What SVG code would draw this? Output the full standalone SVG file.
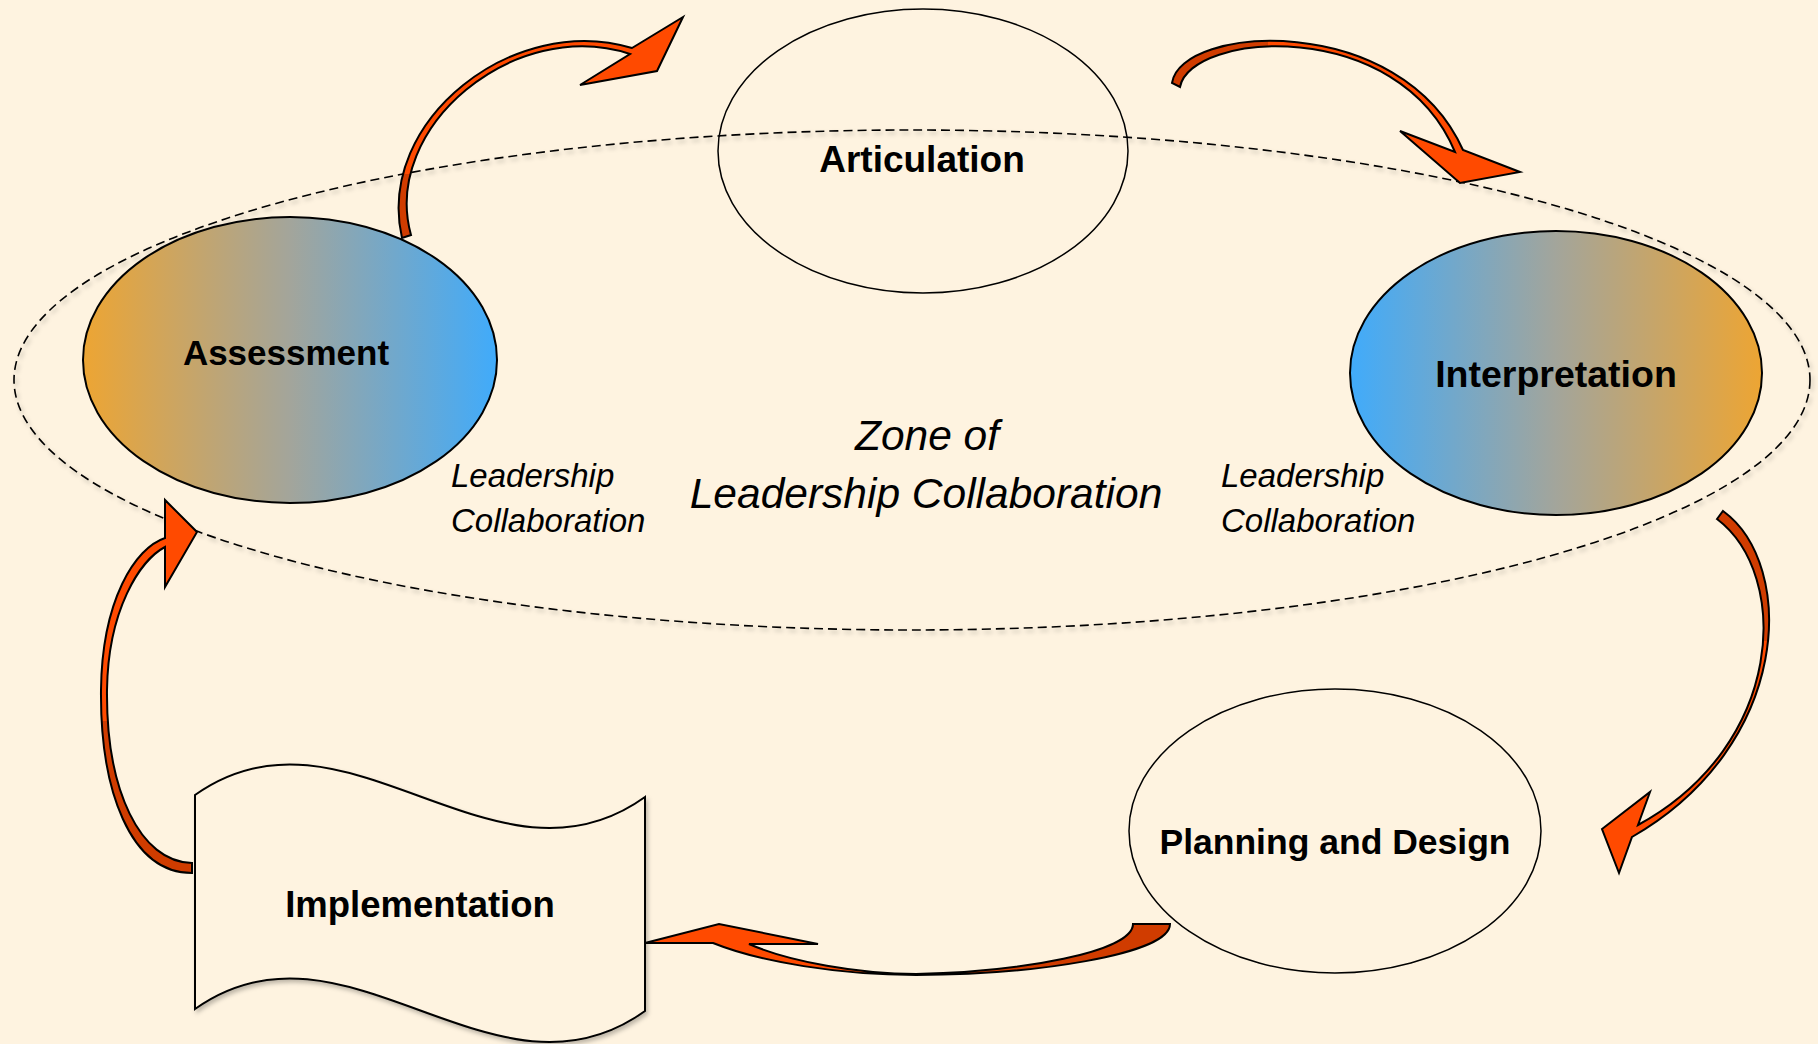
<svg xmlns="http://www.w3.org/2000/svg" width="1818" height="1044" viewBox="0 0 1818 1044">
  <defs>
    <linearGradient id="gradOB" x1="0" y1="0" x2="1" y2="0">
      <stop offset="0" stop-color="#EDA533"/>
      <stop offset="0.5" stop-color="#A3A59B"/>
      <stop offset="1" stop-color="#40ABFB"/>
    </linearGradient>
    <linearGradient id="gradBO" x1="0" y1="0" x2="1" y2="0">
      <stop offset="0" stop-color="#40ABFB"/>
      <stop offset="0.5" stop-color="#A3A59B"/>
      <stop offset="1" stop-color="#EDA533"/>
    </linearGradient>
    <linearGradient id="a1" gradientUnits="userSpaceOnUse" x1="400" y1="240" x2="400" y2="20">
      <stop offset="0" stop-color="#D03C00"/><stop offset="0.3" stop-color="#D03C00"/>
      <stop offset="0.3" stop-color="#FF4A00"/><stop offset="1" stop-color="#FF4A00"/>
    </linearGradient>
    <linearGradient id="a2" gradientUnits="userSpaceOnUse" x1="1170" y1="0" x2="1520" y2="0">
      <stop offset="0" stop-color="#D03C00"/><stop offset="0.28" stop-color="#D03C00"/>
      <stop offset="0.28" stop-color="#FF4A00"/><stop offset="1" stop-color="#FF4A00"/>
    </linearGradient>
    <linearGradient id="a3" gradientUnits="userSpaceOnUse" x1="0" y1="510" x2="0" y2="875">
      <stop offset="0" stop-color="#D03C00"/><stop offset="0.36" stop-color="#D03C00"/>
      <stop offset="0.36" stop-color="#FF4A00"/><stop offset="1" stop-color="#FF4A00"/>
    </linearGradient>
    <linearGradient id="a4" gradientUnits="userSpaceOnUse" x1="1170" y1="0" x2="645" y2="0">
      <stop offset="0" stop-color="#D03C00"/><stop offset="0.48" stop-color="#D03C00"/>
      <stop offset="0.48" stop-color="#FF4A00"/><stop offset="1" stop-color="#FF4A00"/>
    </linearGradient>
    <linearGradient id="a5" gradientUnits="userSpaceOnUse" x1="0" y1="875" x2="0" y2="500">
      <stop offset="0" stop-color="#D03C00"/><stop offset="0.41" stop-color="#D03C00"/>
      <stop offset="0.41" stop-color="#FF4A00"/><stop offset="1" stop-color="#FF4A00"/>
    </linearGradient>
    <filter id="shadow" x="-5%" y="-5%" width="110%" height="115%">
      <feDropShadow dx="2" dy="3" stdDeviation="2" flood-color="#000" flood-opacity="0.25"/>
    </filter>
  </defs>
  <style>
    .bold { font-family: "Liberation Sans", Arial, sans-serif; font-weight: bold; fill: #000; text-anchor: middle; }
    .ital { font-family: "Liberation Sans", Arial, sans-serif; font-style: italic; fill: #000; }
    .plain { fill: #FEF3E0; stroke: #000; stroke-width: 1.5; }
    .arrow { stroke: #000; stroke-width: 2; stroke-linejoin: miter; }
  </style>
  <rect x="0" y="0" width="1818" height="1044" fill="#FEF3E0"/>

  <g id="articulation">
    <ellipse class="plain" cx="923" cy="151" rx="205" ry="142"/>
    <text class="bold" x="922" y="172" font-size="37">Articulation</text>
  </g>

  <g id="zone">
    <ellipse cx="912" cy="380" rx="898" ry="250" fill="none" stroke="#000" stroke-width="1.6" stroke-dasharray="9 5" filter="url(#shadow)"/>
    <text class="ital" x="927" y="450" font-size="42.5" text-anchor="middle">Zone of</text>
    <text class="ital" x="926" y="508" font-size="42.5" text-anchor="middle">Leadership Collaboration</text>
  </g>

  <g id="label-left">
    <text class="ital" x="451" y="487" font-size="33">Leadership</text>
    <text class="ital" x="451" y="532" font-size="33">Collaboration</text>
  </g>
  <g id="label-right">
    <text class="ital" x="1221" y="487" font-size="33">Leadership</text>
    <text class="ital" x="1221" y="532" font-size="33">Collaboration</text>
  </g>

  <g id="assessment">
    <ellipse cx="290" cy="360" rx="207" ry="143" fill="url(#gradOB)" stroke="#000" stroke-width="2"/>
    <text class="bold" x="286" y="365" font-size="35">Assessment</text>
  </g>

  <g id="interpretation">
    <ellipse cx="1556" cy="373" rx="206" ry="142" fill="url(#gradBO)" stroke="#000" stroke-width="2"/>
    <text class="bold" x="1556" y="387" font-size="37.5">Interpretation</text>
  </g>

  <g id="planning">
    <ellipse class="plain" cx="1335" cy="831" rx="206" ry="142"/>
    <text class="bold" x="1335" y="854" font-size="35.5">Planning and Design</text>
  </g>

  <g id="implementation">
    <path d="M195,795 C345,688 495,905 645,797 L645,1011 C495,1119 345,902 195,1009 Z" fill="#FEF3E0" stroke="#000" stroke-width="2" filter="url(#shadow)"/>
    <text class="bold" x="420" y="917" font-size="36.5">Implementation</text>
  </g>

  <g id="connectors">
    <path class="arrow" fill="url(#a1)" d="M402,238 C375,120 515,12 632,48 L683,17 L657,71 L580,85 L630,54 C515,16 381,127 411,235 Z"/>
    <path class="arrow" fill="url(#a2)" d="M1172,83 C1180,25 1400,10 1463,150 L1520,172 L1460,183 L1400,131 L1455,152 C1398,15 1190,32 1180,87 Z"/>
    <path class="arrow" fill="url(#a3)" d="M1717,519 L1723,511 C1797,565 1792,745 1632,837 L1619,873 L1602,829 L1650,792 L1638,825 C1785,745 1791,575 1717,519 Z"/>
    <path class="arrow" fill="url(#a4)" d="M1170,924 C1170,955 1030,975 916,975 C840,975 760,962 713,943 L645,943 L719,924 L818,944 L749,944 C790,962 860,974 916,974 C1020,972 1133,952 1133,924 Z"/>
    <path class="arrow" fill="url(#a5)" d="M192,873 C130,873 100,790 101,690 C102,600 135,548 165,538 L165,500 L197,532 L165,587 L165,547 C140,560 108,610 107,690 C106,790 140,862 192,863 Z"/>
  </g>
</svg>
